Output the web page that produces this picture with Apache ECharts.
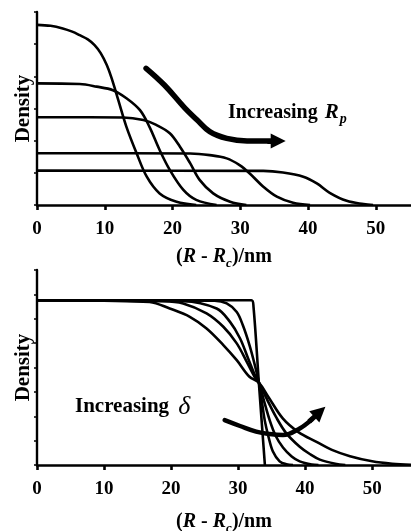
<!DOCTYPE html>
<html>
<head>
<meta charset="utf-8">
<script src="https://cdn.jsdelivr.net/npm/echarts@6/dist/echarts.min.js"></script>
<style>
  html, body { margin: 0; padding: 0; background: #fff; }
  #chart { width: 411px; height: 531px; }
</style>
</head>
<body>
<div id="chart"></div>
<script>
// Density profiles vs. (R - Rc) in nm.
// Top panel: increasing particle radius Rp.
const xTicks = [0, 10, 20, 30, 40, 50];

const rp1 = [[0, 5.60], [2.0, 5.57], [3.8, 5.49], [5.2, 5.39], [6.3, 5.28], [7.5, 5.15], [8.5, 4.97], [9.4, 4.72],
  [10.3, 4.35], [11.0, 3.95], [12.0, 3.26], [13.2, 2.43], [14.7, 1.61], [16.2, 0.88], [18.1, 0.36], [20.6, 0.10], [23.5, 0.0]];
const rp2 = [[0, 3.78], [6.3, 3.76], [8.8, 3.68], [11.2, 3.57], [13.2, 3.32], [15.2, 2.95], [16.6, 2.43],
  [18.1, 1.71], [19.6, 1.09], [21.6, 0.47], [23.5, 0.16], [26.5, 0.0]];
const rp3 = [[0, 2.73], [12.7, 2.72], [15.7, 2.64], [17.6, 2.49], [19.6, 2.23], [21.1, 1.81], [22.6, 1.30],
  [24.0, 0.78], [26.0, 0.36], [28.5, 0.10], [30.9, 0.0]];
const rp4 = [[0, 1.61], [22.6, 1.60], [25.5, 1.55], [28.0, 1.45], [29.9, 1.24], [31.4, 0.98], [33.4, 0.57],
  [35.4, 0.26], [37.8, 0.07], [40.3, 0.0]];
const rp5 = [[0, 1.07], [33.4, 1.06], [36.3, 1.01], [39.3, 0.88], [41.3, 0.67], [43.2, 0.38], [45.7, 0.13],
  [48.2, 0.03], [49.6, 0.0]];

// Bottom panel: increasing interface width delta.
const d0 = [[0, 6.76], [32.0, 6.76], [32.3, 6.5], [33.1, 3.38], [34.0, 0.0]];
const d1 = [[0, 6.76], [26.5, 6.74], [28.3, 6.63], [29.8, 6.28], [30.7, 5.74], [31.7, 4.92], [32.5, 4.10],
  [33.1, 3.38], [33.6, 2.5], [34.0, 1.8], [34.5, 1.2], [35.2, 0.55], [36.2, 0.15], [37.2, 0.03], [38.2, 0.0]];
const d2 = [[0, 6.76], [21.8, 6.72], [26.8, 6.42], [28.8, 5.87], [30.3, 5.19], [31.5, 4.37], [32.5, 3.69],
  [33.1, 3.38], [33.9, 2.6], [34.7, 1.85], [35.6, 1.2], [36.7, 0.72], [38.0, 0.35], [39.2, 0.15], [41.0, 0.02], [42.0, 0.0]];
const d3 = [[0, 6.76], [18.8, 6.72], [21.8, 6.63], [25.3, 6.22], [27.8, 5.67], [29.8, 4.99], [31.3, 4.23],
  [32.5, 3.6], [33.1, 3.38], [34.3, 2.7], [35.7, 1.95], [37.2, 1.3], [39.2, 0.75], [40.7, 0.45], [42.2, 0.22],
  [44.5, 0.05], [46.0, 0.0]];
const d4 = [[0, 6.76], [10.0, 6.74], [16.8, 6.69], [19.8, 6.42], [22.8, 6.08], [25.3, 5.60], [27.8, 4.92],
  [29.8, 4.30], [31.7, 3.62], [33.1, 3.38], [34.5, 2.8], [36.7, 1.9], [39.0, 1.35], [41.7, 0.95], [44.0, 0.62],
  [46.7, 0.36], [50.0, 0.15], [53.0, 0.05], [55.8, 0.01]];

// Annotation arrows, in data units of each panel.
const arrowTop = [[16.1, 4.25], [18.8, 3.73], [21.8, 3.02], [23.6, 2.65], [25.5, 2.28], [28.0, 2.07], [31.0, 1.99], [34.5, 1.99]];
const arrowTopHead = [[34.0, 1.99], [35.6, 1.99]];
const arrowBottom = [[28.0, 1.84], [30.3, 1.60], [32.7, 1.37], [34.7, 1.27], [36.7, 1.23], [39.2, 1.50], [41.0, 1.87]];
const arrowBottomHead = [[40.6, 1.78], [42.2, 2.18]];

const SERIF = '"Liberation Serif", "DejaVu Serif", serif';
const INK = '#000';

const chart = echarts.init(document.getElementById('chart'), null, { renderer: 'canvas' });

function curve(data, axis) {
  return {
    type: 'line', xAxisIndex: axis, yAxisIndex: axis, data: data,
    smooth: 0.35, showSymbol: false, symbol: 'none', silent: true,
    lineStyle: { color: INK, width: 2.6 }
  };
}
function shaft(data, axis, w) {
  return {
    type: 'line', xAxisIndex: axis, yAxisIndex: axis, data: data,
    smooth: 0.4, showSymbol: false, symbol: 'none', silent: true,
    lineStyle: { color: INK, width: w, cap: 'round', join: 'round' }
  };
}
function head(coords, axis) {
  return {
    type: 'lines', coordinateSystem: 'cartesian2d', xAxisIndex: axis, yAxisIndex: axis,
    symbol: ['none', 'triangle'], symbolSize: 15, silent: true,
    lineStyle: { color: INK, width: 5, opacity: 1, curveness: 0 },
    data: [{ coords: coords }]
  };
}

const nameRich = {
  ri: { fontFamily: SERIF, fontWeight: 'bold', fontStyle: 'italic', fontSize: 20, color: INK, lineHeight: 26 },
  sub: { fontFamily: SERIF, fontWeight: 'bold', fontStyle: 'italic', fontSize: 13, color: INK, lineHeight: 12, verticalAlign: 'bottom' }
};

function xAxisCfg(grid, max, gap) {
  return {
    type: 'value', gridIndex: grid, min: 0, max: max,
    name: '({ri|R} - {ri|R}{sub|c})/nm', nameLocation: 'middle', nameGap: gap,
    nameTextStyle: { fontFamily: SERIF, fontWeight: 'bold', fontSize: 20, color: INK, lineHeight: 26, rich: nameRich },
    axisLine: { show: true, onZero: false, lineStyle: { color: INK, width: 2.6 } },
    axisTick: { show: true, length: 5, inside: false, customValues: xTicks, lineStyle: { color: INK, width: 2.6 } },
    axisLabel: { customValues: xTicks, margin: 15, fontFamily: SERIF, fontWeight: 'bold', fontSize: 19, color: INK },
    splitLine: { show: false }
  };
}
function yAxisCfg(grid, max) {
  return {
    type: 'value', gridIndex: grid, min: 0, max: max, interval: 1,
    name: 'Density', nameLocation: 'middle', nameGap: 3, nameRotate: 90,
    nameTextStyle: { fontFamily: SERIF, fontWeight: 'bold', fontSize: 21, color: INK },
    axisLine: { show: true, lineStyle: { color: INK, width: 2.4 } },
    axisTick: { show: true, length: 3, inside: false, lineStyle: { color: INK, width: 1.5 } },
    axisLabel: { show: false },
    splitLine: { show: false }
  };
}

chart.setOption({
  animation: false,
  backgroundColor: '#fff',
  grid: [
    { left: 37, top: 12, width: 374, height: 193, outerBoundsMode: 'none', containLabel: false },
    { left: 37, top: 270, width: 374, height: 195, outerBoundsMode: 'none', containLabel: false }
  ],
  xAxis: [xAxisCfg(0, 55.2, 39), xAxisCfg(1, 55.8, 44)],
  yAxis: [yAxisCfg(0, 6), yAxisCfg(1, 8)],
  series: [
    curve(rp1, 0), curve(rp2, 0), curve(rp3, 0), curve(rp4, 0), curve(rp5, 0),
    curve(d0, 1), curve(d1, 1), curve(d2, 1), curve(d3, 1), curve(d4, 1),
    shaft(arrowTop, 0, 5.5), head(arrowTopHead, 0),
    shaft(arrowBottom, 1, 4.5), head(arrowBottomHead, 1)
  ],
  graphic: [
    {
      type: 'text', left: 228, top: 100, silent: true,
      style: {
        text: 'Increasing {ri|R}{sub|p}',
        fontFamily: SERIF, fontWeight: 'bold', fontSize: 20, fill: INK, lineHeight: 26,
        rich: {
          ri: { fontFamily: SERIF, fontWeight: 'bold', fontStyle: 'italic', fontSize: 21, fill: INK, lineHeight: 26, padding: [0, 1, 0, 2] },
          sub: { fontFamily: SERIF, fontWeight: 'bold', fontStyle: 'italic', fontSize: 14, fill: INK, lineHeight: 12, verticalAlign: 'bottom' }
        }
      }
    },
    {
      type: 'text', left: 75, top: 394, silent: true,
      style: {
        text: 'Increasing {d|δ}',
        fontFamily: SERIF, fontWeight: 'bold', fontSize: 21, fill: INK, lineHeight: 26,
        rich: {
          d: { fontFamily: SERIF, fontStyle: 'italic', fontSize: 26, fill: INK, lineHeight: 26, padding: [0, 0, 0, 4] }
        }
      }
    }
  ]
});
</script>
</body>
</html>
